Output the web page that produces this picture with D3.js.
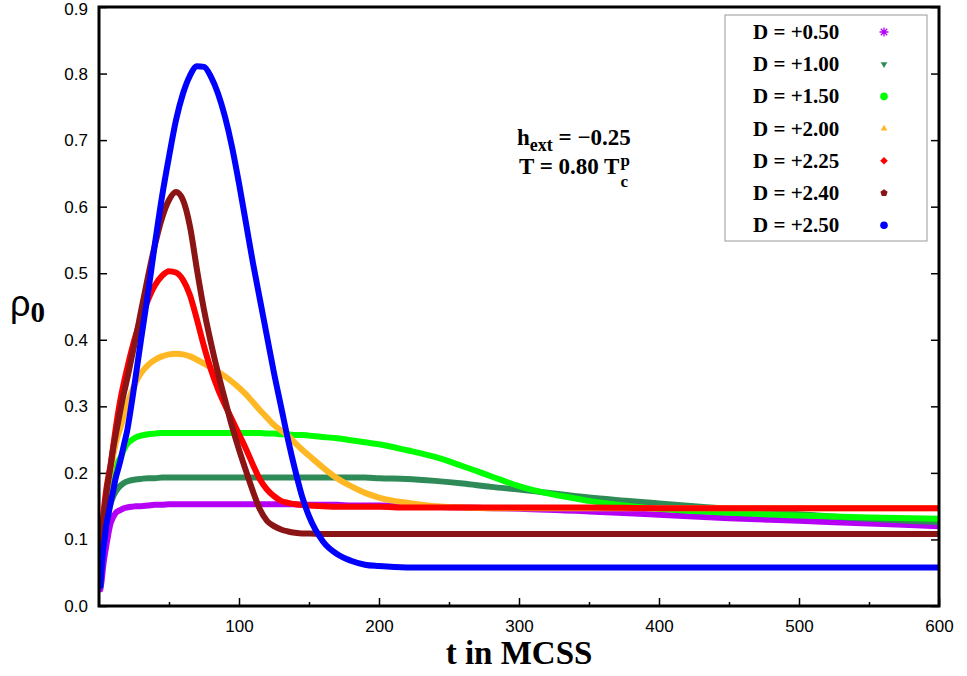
<!DOCTYPE html>
<html>
<head>
<meta charset="utf-8">
<script src="https://cdn.jsdelivr.net/npm/d3@7"></script>
<style>
    body { margin: 0; background: #fff; }
    svg { display: block; }
    .tick text { font-family: "Liberation Sans", Arial, sans-serif; font-size: 17px; fill: #000; }
    .tick line { stroke: #000; stroke-width: 1.5px; }
    .serif { font-family: "Liberation Serif", "Times New Roman", serif; font-weight: bold; fill: #000; }
</style>
</head>
<body>
<div id="chart"></div>
<script>
const times = [1, 2, 3, 4, 5, 6, 7, 8, 10, 12, 14, 16, 18, 20, 23, 26, 30, 35, 40, 45, 50, 55, 60, 65, 70, 75,
    80, 85, 90, 95, 100, 105, 110, 115, 120, 125, 130, 135, 140, 145, 150, 160, 170, 180, 190, 200,
    220, 240, 260, 280, 300, 350, 400, 450, 500, 550, 600];

// rho_0 for each D
const rhoD050 = [0.025, 0.040, 0.060, 0.075, 0.088, 0.100, 0.112, 0.122, 0.133, 0.140, 0.143, 0.145, 0.147, 0.148, 0.149, 0.150, 0.150, 0.151, 0.152, 0.152,
    0.153, 0.153, 0.153, 0.153, 0.153, 0.153, 0.153, 0.153, 0.153, 0.153, 0.153, 0.153, 0.153, 0.153, 0.153, 0.153, 0.153, 0.153, 0.153, 0.152,
    0.152, 0.152, 0.152, 0.151, 0.151, 0.151, 0.150, 0.149, 0.148, 0.147, 0.146, 0.142, 0.137, 0.132, 0.128, 0.124, 0.120];
const rhoD100 = [0.030, 0.070, 0.100, 0.118, 0.130, 0.138, 0.145, 0.152, 0.164, 0.172, 0.178, 0.182, 0.185, 0.187, 0.189, 0.190, 0.191, 0.192, 0.192, 0.193,
    0.193, 0.193, 0.193, 0.193, 0.193, 0.193, 0.193, 0.193, 0.193, 0.193, 0.193, 0.193, 0.193, 0.193, 0.193, 0.193, 0.193, 0.193, 0.193, 0.193,
    0.193, 0.193, 0.193, 0.193, 0.193, 0.192, 0.191, 0.188, 0.184, 0.179, 0.175, 0.163, 0.154, 0.146, 0.138, 0.131, 0.126];
const rhoD150 = [0.035, 0.075, 0.120, 0.138, 0.152, 0.165, 0.175, 0.182, 0.197, 0.210, 0.218, 0.226, 0.236, 0.243, 0.249, 0.253, 0.256, 0.258, 0.259, 0.260,
    0.260, 0.260, 0.260, 0.260, 0.260, 0.260, 0.260, 0.260, 0.260, 0.260, 0.260, 0.260, 0.260, 0.260, 0.259, 0.259, 0.258, 0.258, 0.257, 0.257,
    0.256, 0.254, 0.252, 0.249, 0.246, 0.243, 0.234, 0.224, 0.210, 0.195, 0.180, 0.158, 0.146, 0.140, 0.136, 0.133, 0.131];
const rhoD200 = [0.040, 0.085, 0.125, 0.145, 0.160, 0.175, 0.190, 0.200, 0.225, 0.245, 0.260, 0.272, 0.288, 0.302, 0.320, 0.335, 0.350, 0.362, 0.370, 0.375,
    0.378, 0.379, 0.378, 0.375, 0.370, 0.364, 0.358, 0.352, 0.345, 0.337, 0.328, 0.318, 0.306, 0.294, 0.283, 0.272, 0.264, 0.256, 0.245, 0.235,
    0.226, 0.208, 0.192, 0.180, 0.170, 0.163, 0.155, 0.150, 0.148, 0.147, 0.147, 0.147, 0.147, 0.147, 0.147, 0.147, 0.147];
const rhoD225 = [0.040, 0.090, 0.134, 0.155, 0.172, 0.186, 0.198, 0.209, 0.238, 0.268, 0.295, 0.318, 0.338, 0.356, 0.382, 0.405, 0.432, 0.460, 0.482, 0.496,
    0.503, 0.501, 0.490, 0.467, 0.430, 0.390, 0.355, 0.326, 0.302, 0.280, 0.258, 0.236, 0.212, 0.190, 0.175, 0.165, 0.158, 0.155, 0.153, 0.152,
    0.151, 0.150, 0.149, 0.149, 0.149, 0.149, 0.148, 0.148, 0.148, 0.148, 0.148, 0.148, 0.147, 0.147, 0.147, 0.147, 0.147];
const rhoD240 = [0.035, 0.080, 0.125, 0.145, 0.163, 0.180, 0.193, 0.206, 0.235, 0.258, 0.280, 0.302, 0.322, 0.340, 0.370, 0.400, 0.443, 0.495, 0.543, 0.583,
    0.610, 0.622, 0.610, 0.570, 0.505, 0.445, 0.395, 0.350, 0.310, 0.270, 0.235, 0.203, 0.172, 0.145, 0.128, 0.120, 0.115, 0.112, 0.110, 0.109,
    0.109, 0.108, 0.108, 0.108, 0.108, 0.108, 0.108, 0.108, 0.108, 0.108, 0.108, 0.108, 0.108, 0.108, 0.108, 0.108, 0.108];
const rhoD250 = [0.030, 0.060, 0.085, 0.100, 0.118, 0.130, 0.140, 0.152, 0.172, 0.193, 0.208, 0.225, 0.244, 0.262, 0.300, 0.342, 0.400, 0.470, 0.545, 0.615,
    0.675, 0.730, 0.770, 0.797, 0.811, 0.810, 0.795, 0.770, 0.735, 0.690, 0.635, 0.575, 0.515, 0.460, 0.405, 0.350, 0.300, 0.250, 0.205, 0.165,
    0.135, 0.097, 0.078, 0.068, 0.062, 0.060, 0.058, 0.058, 0.058, 0.058, 0.058, 0.058, 0.058, 0.058, 0.058, 0.058, 0.058];

const seriesValues = [rhoD050, rhoD100, rhoD150, rhoD200, rhoD225, rhoD240, rhoD250];
const seriesLabels = ["D = +0.50", "D = +1.00", "D = +1.50", "D = +2.00", "D = +2.25", "D = +2.40", "D = +2.50"];

const xTicks = [100, 200, 300, 400, 500, 600];
const xMinorTicks = [50, 150, 250, 350, 450, 550];
const yTicks = [0, 0.1, 0.2, 0.3, 0.4, 0.5, 0.6, 0.7, 0.8, 0.9];

// styles
const colors = ["#b400f5", "#2e8b57", "#00ff00", "#ffb824", "#ff0000", "#8b1414", "#0000ff"];
const symbols = ["asterisk", "triangleDown", "circle", "triangleUp", "diamond", "pentagon", "circle"];

const width = 967, height = 676;
const plot = { left: 99, right: 939, top: 7, bottom: 606 };

const svg = d3.select("#chart").append("svg")
    .attr("width", width)
    .attr("height", height);

const x = d3.scaleLinear().domain([0, 600]).range([plot.left, plot.right]);
const y = d3.scaleLinear().domain([0, 0.9]).range([plot.bottom, plot.top]);

svg.append("defs").append("clipPath")
    .attr("id", "plot-clip")
    .append("rect")
    .attr("x", plot.left)
    .attr("y", plot.top)
    .attr("width", plot.right - plot.left)
    .attr("height", plot.bottom - plot.top);

// axes (ticks point inward)
svg.append("g")
    .attr("transform", `translate(0,${plot.bottom})`)
    .call(d3.axisBottom(x).tickValues(xTicks).tickSizeInner(-8).tickSizeOuter(0).tickPadding(14))
    .call(g => g.select(".domain").remove());

svg.append("g")
    .attr("transform", `translate(0,${plot.bottom})`)
    .call(d3.axisBottom(x).tickValues(xMinorTicks).tickSizeInner(-4).tickSizeOuter(0).tickFormat(""))
    .call(g => g.select(".domain").remove());

svg.append("g")
    .attr("transform", `translate(${plot.left},0)`)
    .call(d3.axisLeft(y).tickValues(yTicks).tickFormat(d3.format(".1f")).tickSizeInner(-8).tickSizeOuter(0).tickPadding(11))
    .call(g => g.select(".domain").remove())
    .call(g => g.selectAll(".tick text").filter(d => d === 0.9).attr("dy", "0.42em"));

svg.append("g")
    .attr("transform", `translate(${plot.right},0)`)
    .call(d3.axisRight(y).tickValues(yTicks).tickFormat("").tickSizeInner(-8).tickSizeOuter(0))
    .call(g => g.select(".domain").remove());

// curves: gnuplot draws them in legend order, D = 2.50 ends up on top
const line = d3.line()
    .x((d, i) => x(times[i]))
    .y(d => y(d))
    .curve(d3.curveMonotoneX);

svg.append("g")
    .attr("clip-path", "url(#plot-clip)")
    .selectAll("path")
    .data(seriesValues)
    .join("path")
    .attr("d", line)
    .attr("fill", "none")
    .attr("stroke", (d, i) => colors[i])
    .attr("stroke-width", 6)
    .attr("stroke-linecap", "round")
    .attr("stroke-linejoin", "round");

// frame
svg.append("rect")
    .attr("x", plot.left)
    .attr("y", plot.top)
    .attr("width", plot.right - plot.left)
    .attr("height", plot.bottom - plot.top)
    .attr("fill", "none")
    .attr("stroke", "#000")
    .attr("stroke-width", 3);

// axis titles
svg.append("text")
    .attr("class", "serif")
    .attr("x", (plot.left + plot.right) / 2)
    .attr("y", 664)
    .attr("text-anchor", "middle")
    .attr("font-size", 33)
    .text("t in MCSS");

const yTitle = svg.append("text").attr("x", 10).attr("y", 316);
yTitle.append("tspan")
    .attr("font-family", "'Liberation Sans', Arial, sans-serif")
    .attr("font-size", 36)
    .text("ρ");
yTitle.append("tspan")
    .attr("class", "serif")
    .attr("font-size", 29)
    .attr("dy", 6)
    .text("0");

// annotation
const ann1 = svg.append("text").attr("class", "serif").attr("x", 517).attr("y", 145).attr("font-size", 23);
ann1.append("tspan").text("h");
ann1.append("tspan").attr("font-size", 18).attr("dy", 6).text("ext");
ann1.append("tspan").attr("dy", -6).text(" = \u22120.25");

const ann2 = svg.append("text").attr("class", "serif").attr("x", 519).attr("y", 174).attr("font-size", 23)
    .text("T = 0.80 T");
const ann2End = 519 + ann2.node().getComputedTextLength() + 1;
svg.append("text").attr("class", "serif").attr("x", ann2End).attr("y", 166).attr("font-size", 17).text("p");
svg.append("text").attr("class", "serif").attr("x", ann2End).attr("y", 187).attr("font-size", 17).text("c");

// legend
function markerPath(type, r) {
    if (type === "asterisk") {
        let p = "";
        for (let k = 0; k < 4; k++) {
            const a = k * Math.PI / 4;
            p += `M${-r * Math.cos(a)},${-r * Math.sin(a)}L${r * Math.cos(a)},${r * Math.sin(a)}`;
        }
        return p;
    }
    if (type === "circle") return d3.symbol(d3.symbolCircle, Math.PI * r * r)();
    const n = type === "pentagon" ? 5 : type === "diamond" ? 4 : 3;
    const rot = type === "triangleDown" ? Math.PI / 2 : -Math.PI / 2;
    const pts = d3.range(n).map(k => {
        const a = rot + k * 2 * Math.PI / n;
        return [r * Math.cos(a), r * Math.sin(a)];
    });
    return "M" + pts.join("L") + "Z";
}

const legend = svg.append("g").attr("class", "legend");
legend.append("rect")
    .attr("x", 725)
    .attr("y", 15)
    .attr("width", 202)
    .attr("height", 226)
    .attr("fill", "#fff")
    .attr("stroke", "#999")
    .attr("stroke-width", 1);

const rows = legend.selectAll(".row")
    .data(seriesLabels)
    .join("g")
    .attr("class", "row")
    .attr("transform", (d, i) => `translate(0,${32 + i * 32.2})`);

rows.append("text")
    .attr("class", "serif")
    .attr("x", 753)
    .attr("y", 7)
    .attr("font-size", 21)
    .text(d => d);

rows.append("path")
    .attr("transform", "translate(884,0)")
    .attr("d", (d, i) => markerPath(symbols[i], symbols[i] === "asterisk" ? 4.5 : 3.8))
    .attr("fill", (d, i) => symbols[i] === "asterisk" ? "none" : colors[i])
    .attr("stroke", (d, i) => symbols[i] === "asterisk" ? colors[i] : "none")
    .attr("stroke-width", 1.3);
</script>
</body>
</html>
